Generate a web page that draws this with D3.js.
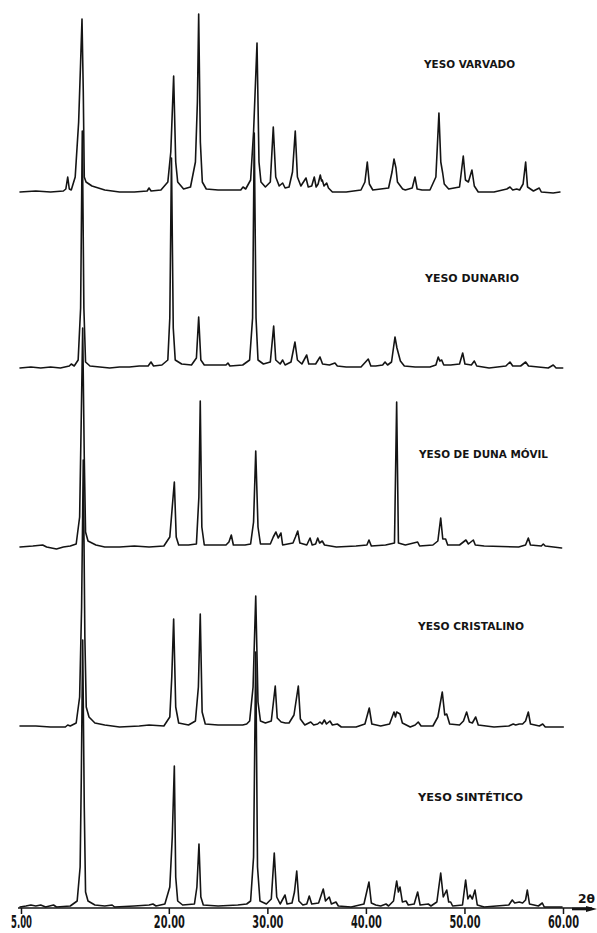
<!DOCTYPE html>
<html>
<head>
<meta charset="utf-8">
<script src="https://cdn.jsdelivr.net/npm/d3@7/dist/d3.min.js"></script>
<style>
  html, body { margin: 0; padding: 0; background: #fff; }
  svg { display: block; }
</style>
</head>
<body>
<svg id="chart" width="597" height="933"></svg>
<script>
// ---------------- DATA (2θ in degrees, intensity in counts) ----------------
const tickValues = [5, 20, 30, 40, 50, 60];
const tickLabels = ["5.00", "20.00", "30.00", "40.00", "50.00", "60.00"];
const axisLabel = "2θ";
const sampleNames = ["YESO VARVADO", "YESO DUNARIO", "YESO DE DUNA MÓVIL", "YESO CRISTALINO", "YESO SINTÉTICO"];

const varvado = [[4.9,0],[6.5,10],[8,0],[9.3,10],[9.55,30],[9.74,150],[9.9,30],[10.1,20],[10.5,150],[10.85,700],[11.05,1300],[11.19,1730],[11.32,1000],[11.42,150],[11.6,100],[12.2,60],[13.5,20],[15,0],[16.5,0],[17.8,10],[17.99,40],[18.2,10],[19.2,20],[19.9,100],[20.2,400],[20.49,1160],[20.7,300],[20.9,100],[21.5,30],[22.2,50],[22.7,300],[22.9,900],[23.03,1780],[23.2,500],[23.4,100],[23.8,30],[25,20],[26.5,20],[27.3,20],[27.53,50],[27.8,30],[28.3,120],[28.6,600],[28.95,1490],[29.15,300],[29.35,100],[29.8,50],[30.3,100],[30.6,650],[30.85,150],[31.2,60],[31.55,90],[31.8,40],[32.2,50],[32.55,200],[32.83,610],[33.05,150],[33.4,60],[33.92,140],[34.15,50],[34.5,60],[34.76,150],[34.95,50],[35.15,80],[35.37,170],[35.5,110],[35.57,120],[35.75,60],[36.02,90],[36.2,40],[36.6,0],[38,0],[39.5,20],[39.9,100],[40.14,300],[40.35,80],[40.7,20],[41.5,30],[42.3,40],[42.65,200],[42.85,330],[43.05,240],[43.2,100],[43.5,60],[43.73,30],[44,20],[44.7,40],[44.98,150],[45.2,30],[45.7,20],[46.5,20],[47.1,150],[47.41,790],[47.6,300],[47.79,190],[47.95,80],[48.4,30],[49.5,50],[49.88,360],[50.1,120],[50.4,100],[50.76,220],[51,60],[51.4,0],[53,0],[54.3,30],[54.62,50],[54.9,20],[55.3,30],[55.6,20],[55.95,80],[56.21,300],[56.4,50],[57,10],[57.59,40],[57.8,0],[59,-10],[59.69,0]];

const dunario = [[4.9,0],[6,10],[7,0],[8,10],[9,0],[9.9,20],[10.1,40],[10.4,20],[10.8,80],[11.05,600],[11.22,2370],[11.38,600],[11.55,60],[12,20],[13,10],[14,0],[15,10],[16,10],[17,20],[17.9,20],[18.19,60],[18.45,20],[19.3,30],[19.9,80],[20.1,500],[20.27,2100],[20.45,400],[20.65,80],[21.3,40],[22.3,30],[22.8,100],[23.03,510],[23.25,80],[23.6,30],[25,30],[25.8,30],[26.0,50],[26.2,20],[27.5,30],[28.2,80],[28.5,500],[28.67,2350],[28.85,500],[29.05,80],[29.6,40],[30.3,60],[30.64,420],[30.85,80],[31.3,40],[31.55,80],[31.8,30],[32.4,60],[32.8,260],[33.05,80],[33.5,40],[33.99,130],[34.2,40],[34.9,40],[35.34,110],[35.6,40],[36.3,30],[36.86,50],[37.1,20],[38,10],[39.5,10],[40.24,90],[40.5,20],[41,20],[41.7,30],[41.94,60],[42.2,30],[42.6,60],[42.95,310],[43.15,200],[43.5,70],[43.9,20],[45,10],[46.5,10],[47.1,30],[47.34,110],[47.5,70],[47.69,80],[47.9,30],[48.6,30],[49.5,40],[49.82,150],[50.05,40],[50.7,30],[51.0,70],[51.25,20],[52.5,0],[54.2,20],[54.62,60],[54.9,20],[55.7,20],[56.21,60],[56.5,20],[57.5,10],[58.5,0],[59.01,30],[59.3,0],[59.97,0]];

const dunaMovil = [[4.9,0],[6.2,10],[7.2,20],[7.6,0],[8.6,-20],[9.3,0],[10,10],[10.6,30],[10.95,300],[11.1,1200],[11.26,2190],[11.42,900],[11.55,150],[11.8,60],[12.2,40],[12.6,20],[13.5,0],[15,0],[16.5,10],[18,0],[19.5,10],[20.1,100],[20.35,400],[20.56,650],[20.75,100],[21,20],[22,20],[22.8,30],[23.05,500],[23.19,1460],[23.35,200],[23.6,20],[25.8,20],[26.1,50],[26.34,120],[26.55,20],[27.73,20],[28.3,30],[28.6,250],[28.82,960],[29.05,200],[29.3,30],[30.3,30],[30.6,100],[30.87,150],[31.1,90],[31.38,140],[31.55,20],[32.6,40],[32.85,100],[33.08,160],[33.3,40],[34.0,20],[34.33,90],[34.55,20],[34.9,30],[35.11,90],[35.3,40],[35.57,60],[35.8,20],[37,0],[39,10],[40.1,20],[40.31,70],[40.55,10],[42,20],[42.9,40],[43.12,1450],[43.3,40],[44,20],[45.25,50],[45.45,10],[46.8,20],[47.3,60],[47.59,290],[47.8,80],[48.09,80],[48.3,20],[49.5,20],[50.15,70],[50.4,30],[50.9,70],[51.1,20],[52,10],[55.5,0],[56.2,20],[56.48,90],[56.7,20],[57.8,10],[58.0,30],[58.2,10],[59.86,-10]];

const cristalino = [[4.9,10],[6.5,10],[8,0],[9.5,0],[9.74,20],[10,10],[10.6,40],[10.95,300],[11.15,1200],[11.32,2670],[11.48,900],[11.62,200],[11.9,100],[12.5,40],[13.5,20],[15,0],[17,10],[18,20],[19.5,10],[20.1,100],[20.3,500],[20.49,1080],[20.7,200],[21,40],[22,20],[22.7,60],[23.0,400],[23.19,1130],[23.38,150],[23.7,30],[25,20],[27.5,20],[27.9,30],[28.2,60],[28.55,400],[28.82,1310],[29.05,250],[29.3,60],[29.8,40],[30.4,60],[30.8,410],[31.0,90],[31.4,50],[31.82,40],[32.2,40],[32.7,120],[33.14,410],[33.35,80],[33.8,20],[34.4,50],[34.7,20],[35.1,30],[35.34,50],[35.55,30],[35.78,70],[36.0,30],[36.35,60],[36.6,20],[37.1,30],[37.5,0],[39,0],[39.9,30],[40.34,190],[40.6,30],[41.5,10],[42.4,30],[42.85,150],[43.0,100],[43.12,150],[43.46,130],[43.7,40],[44.5,0],[45.0,20],[45.31,50],[45.6,10],[46.8,10],[47.3,100],[47.75,350],[48.0,120],[48.2,130],[48.5,30],[49.5,20],[49.9,60],[50.22,150],[50.5,50],[50.8,40],[51.14,100],[51.4,20],[53,0],[54.5,10],[54.95,30],[55.2,20],[55.56,30],[55.9,30],[56.2,60],[56.48,150],[56.7,30],[57.6,10],[57.94,30],[58.2,0],[60.03,0]];

const sintetico = [[4.9,0],[5.5,10],[6,20],[6.5,10],[7,20],[7.5,0],[8.3,20],[8.6,0],[10,10],[10.7,60],[11.0,400],[11.12,1300],[11.26,2670],[11.42,1000],[11.55,150],[11.8,60],[12.5,20],[13.5,10],[14.25,20],[14.5,0],[16.5,10],[18,20],[18.39,30],[18.7,10],[19.6,30],[20.1,200],[20.35,700],[20.56,1410],[20.7,300],[20.9,60],[21.4,20],[22.6,30],[22.85,200],[23.06,630],[23.25,100],[23.5,20],[25,10],[27.0,20],[27.9,30],[28.3,60],[28.6,500],[28.82,2550],[29.0,400],[29.25,60],[29.9,30],[30.4,80],[30.7,540],[30.95,100],[31.3,30],[31.79,120],[32.0,30],[32.5,40],[32.75,150],[32.98,360],[33.2,60],[33.6,20],[34.0,30],[34.25,110],[34.5,30],[35.2,40],[35.67,180],[35.9,60],[36.28,100],[36.5,30],[36.96,50],[37.2,10],[38.5,0],[39.8,30],[40.31,250],[40.55,40],[41,20],[41.5,10],[42.04,30],[42.3,10],[42.8,60],[43.12,260],[43.3,150],[43.46,200],[43.7,50],[44.07,60],[44.3,20],[44.9,30],[45.25,150],[45.5,20],[46.33,30],[46.6,10],[47.2,50],[47.59,340],[47.85,100],[48.2,170],[48.4,50],[48.6,50],[48.8,10],[49.8,20],[50.12,270],[50.35,80],[50.56,120],[50.8,80],[51.07,170],[51.3,20],[52,0],[54.5,20],[54.85,70],[55.1,40],[55.56,50],[55.9,40],[56.2,70],[56.38,170],[56.6,30],[57.5,10],[57.9,40],[58.1,0],[59.9,0]];

const traces = [varvado, dunario, dunaMovil, cristalino, sintetico];

// ---------------- LAYOUT ----------------
const svg = d3.select("#chart");
const baselines = [192, 368, 547, 727, 907];
const labelBoxes = [
  {x: 424, y: 68,  w: 91},
  {x: 425, y: 282, w: 94},
  {x: 419, y: 458, w: 129},
  {x: 418, y: 630, w: 106},
  {x: 418, y: 801, w: 105}
];

const x = d3.scaleLinear().domain([5, 60]).range([21, 563]);
const ink = "#141414";

traces.forEach((data, i) => {
  const y = d3.scaleLinear().domain([0, 2000]).range([baselines[i], baselines[i] - 200]);
  const line = d3.line().x(d => x(d[0])).y(d => y(d[1])).curve(d3.curveLinear);
  svg.append("path")
    .datum(data)
    .attr("d", line)
    .attr("fill", "none")
    .attr("stroke", ink)
    .attr("stroke-width", 1.6)
    .attr("stroke-linejoin", "round")
    .attr("stroke-linecap", "round");

  const lb = labelBoxes[i];
  svg.append("text")
    .attr("x", lb.x).attr("y", lb.y)
    .attr("textLength", lb.w)
    .attr("lengthAdjust", "spacingAndGlyphs")
    .attr("font-family", "DejaVu Sans, sans-serif")
    .attr("font-weight", "bold")
    .attr("font-size", 11)
    .attr("fill", ink)
    .text(sampleNames[i]);
});

// ---------------- AXIS ----------------
const axisY = 908;
const axis = d3.axisBottom(x)
  .tickValues(tickValues)
  .tickFormat((d, i) => tickLabels[i])
  .tickSize(6)
  .tickSizeOuter(0);

const gAxis = svg.append("g").attr("transform", `translate(0,${axisY})`).call(axis);
gAxis.select(".domain").remove();
gAxis.selectAll(".tick line").attr("stroke", ink).attr("stroke-width", 1.5);
gAxis.selectAll(".tick text")
  .attr("y", 20)
  .attr("dy", 0)
  .attr("font-family", "DejaVu Sans Condensed, Liberation Sans Narrow, sans-serif")
  .attr("font-size", 17)
  .attr("font-weight", "bold")
  .attr("fill", ink)
  .attr("textLength", (d, i) => tickLabels[i].length > 4 ? 31 : 21)
  .attr("lengthAdjust", "spacingAndGlyphs");

svg.append("line")
  .attr("x1", 18).attr("x2", 592)
  .attr("y1", axisY).attr("y2", axisY)
  .attr("stroke", ink).attr("stroke-width", 1.5);

svg.append("line")
  .attr("x1", 572).attr("x2", 590)
  .attr("y1", axisY + 1).attr("y2", axisY + 1)
  .attr("stroke", ink).attr("stroke-width", 2.6);
svg.append("path")
  .attr("d", `M586,${axisY - 2} L597,${axisY + 1} L586,${axisY + 4} Z`)
  .attr("fill", ink);

svg.append("text")
  .attr("x", 578).attr("y", 903)
  .attr("textLength", 17)
  .attr("lengthAdjust", "spacingAndGlyphs")
  .attr("font-family", "DejaVu Sans, sans-serif")
  .attr("font-weight", "bold")
  .attr("font-size", 12)
  .attr("fill", ink)
  .text(axisLabel);
</script>
</body>
</html>
